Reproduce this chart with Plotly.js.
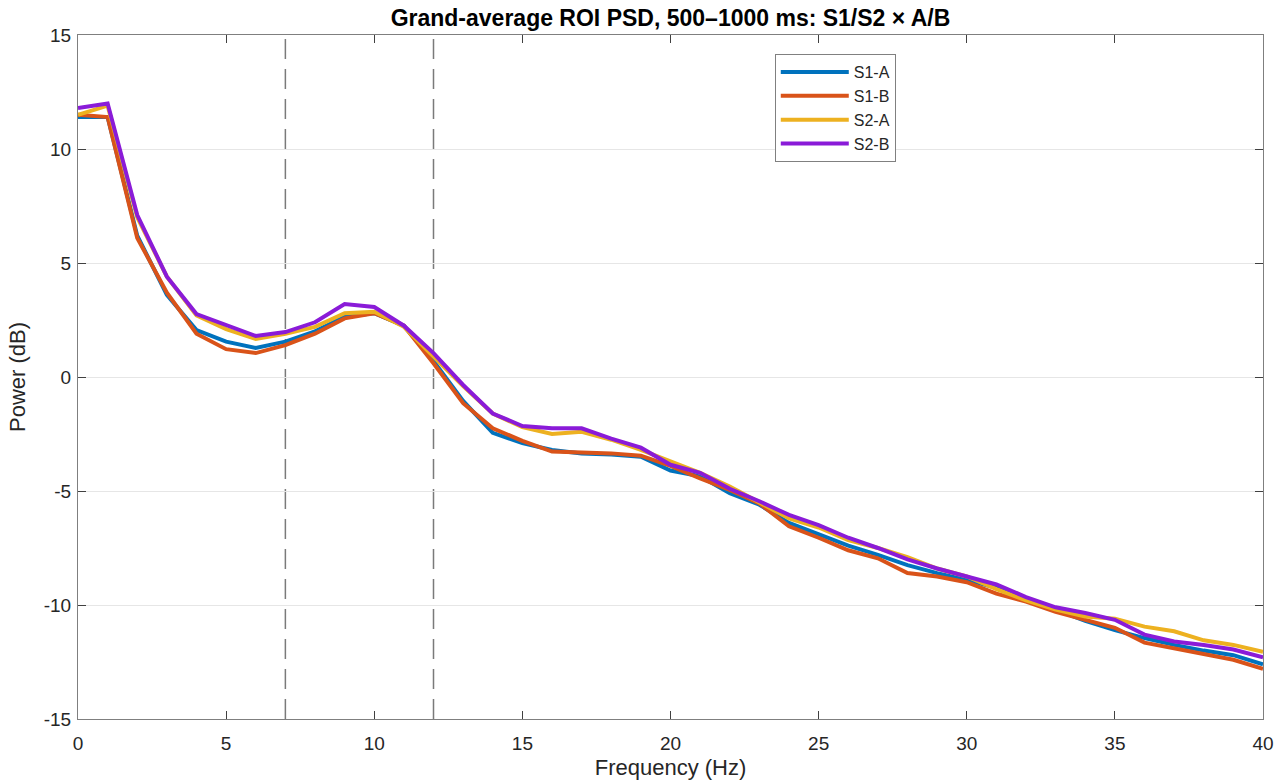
<!DOCTYPE html>
<html>
<head>
<meta charset="utf-8">
<script src="https://cdn.plot.ly/plotly-3.0.1.min.js"></script>
<style>html,body{margin:0;padding:0;background:#fff;}#chart{width:1286px;height:780px;}</style>
</head>
<body>
<div id="chart"></div>
<script>
const freqs = [0,1,2,3,4,5,6,7,8,9,10,11,12,13,14,15,16,17,18,19,20,21,22,23,24,25,26,27,28,29,30,31,32,33,34,35,36,37,38,39,40];
const s1a = [11.4,11.4,6.2,3.6,2.06,1.55,1.27,1.55,2.0,2.65,2.8,2.25,0.7,-1.05,-2.45,-2.9,-3.2,-3.35,-3.4,-3.5,-4.1,-4.35,-5.1,-5.6,-6.4,-6.9,-7.4,-7.8,-8.25,-8.6,-8.9,-9.25,-9.8,-10.2,-10.7,-11.1,-11.45,-11.75,-12.0,-12.2,-12.6];
const s1b = [11.5,11.4,6.1,3.7,1.9,1.22,1.05,1.4,1.9,2.57,2.8,2.25,0.6,-1.15,-2.25,-2.8,-3.27,-3.3,-3.35,-3.45,-3.9,-4.45,-4.95,-5.55,-6.55,-7.05,-7.6,-7.95,-8.6,-8.75,-9.0,-9.5,-9.85,-10.3,-10.65,-11.0,-11.65,-11.9,-12.15,-12.4,-12.8];
const s2a = [11.5,11.9,7.0,4.4,2.7,2.1,1.67,1.9,2.2,2.8,2.86,2.2,0.9,-0.4,-1.6,-2.2,-2.5,-2.4,-2.75,-3.2,-3.7,-4.2,-4.8,-5.5,-6.2,-6.6,-7.15,-7.5,-7.9,-8.4,-8.75,-9.3,-9.8,-10.2,-10.5,-10.6,-10.95,-11.15,-11.55,-11.75,-12.05];
const s2b = [11.8,12.0,7.1,4.4,2.76,2.3,1.8,1.97,2.4,3.2,3.07,2.25,1.05,-0.35,-1.6,-2.15,-2.25,-2.25,-2.7,-3.1,-3.85,-4.2,-4.9,-5.45,-6.05,-6.5,-7.05,-7.5,-8.0,-8.4,-8.75,-9.1,-9.65,-10.1,-10.35,-10.65,-11.3,-11.6,-11.75,-11.95,-12.3];
const seriesNames = ['S1-A','S1-B','S2-A','S2-B'];
const bandEdges = [7,12];
const xTicks = [0,5,10,15,20,25,30,35,40];
const xTickText = ['0','5','10','15','20','25','30','35','40'];
const yTicks = [-15,-10,-5,0,5,10,15];
const yTickText = ['-15','-10','-5','0','5','10','15'];

const FONT = 'Liberation Sans, Arial, Helvetica, sans-serif';
const colors = ['#0072BD','#D95319','#EDB120','#8A1BD8'];
const data = [s1a,s1b,s2a,s2b].map((ys,i)=>({
  x: freqs, y: ys, type:'scatter', mode:'lines', name: seriesNames[i],
  line:{color:colors[i], width:4}
}));

const axisCommon = {
  showline:true, mirror:'ticks', linecolor:'#7f7f7f', linewidth:1,
  ticks:'inside', ticklen:8, tickwidth:1, tickcolor:'#404040',
  gridcolor:'#e6e6e6', gridwidth:1, zeroline:false, automargin:false,
  tickfont:{family:FONT, size:19, color:'#262626'}
};

const layout = {
  width:1286, height:780,
  margin:{l:78, r:23, t:35, b:61},
  paper_bgcolor:'#fff', plot_bgcolor:'#fff',
  title:{text:'<b>Grand-average ROI PSD, 500–1000 ms: S1/S2 × A/B</b>', x:0.5, xref:'paper', y:0.977, yanchor:'middle',
    font:{family:FONT, size:23, color:'#000'}},
  xaxis: Object.assign({}, axisCommon, {range:[0,40], tickvals:xTicks, ticktext:xTickText, showgrid:false,
    ticklabelstandoff:7,
    title:{text:'Frequency (Hz)', standoff:8, font:{family:FONT, size:22, color:'#262626'}}}),
  yaxis: Object.assign({}, axisCommon, {range:[-15,15], tickvals:yTicks, ticktext:yTickText, showgrid:true,
    ticklabelstandoff:2,
    title:{text:'Power (dB)', standoff:12, font:{family:FONT, size:22, color:'#262626'}}}),
  shapes: bandEdges.map(v=>({type:'line', xref:'x', yref:'paper', x0:v, x1:v, y0:0, y1:1,
    line:{color:'#7a7a7a', width:1.5, dash:'20px,10px'}, layer:'below'})),
  legend:{x:0.588, y:0.972, xanchor:'left', yanchor:'top', bgcolor:'#fff', bordercolor:'#808080', borderwidth:1,
    font:{family:FONT, size:16, color:'#262626'}, tracegroupgap:0, itemwidth:68},
  showlegend:true
};

Plotly.newPlot('chart', data, layout, {displayModeBar:false, staticPlot:true});
</script>
</body>
</html>
